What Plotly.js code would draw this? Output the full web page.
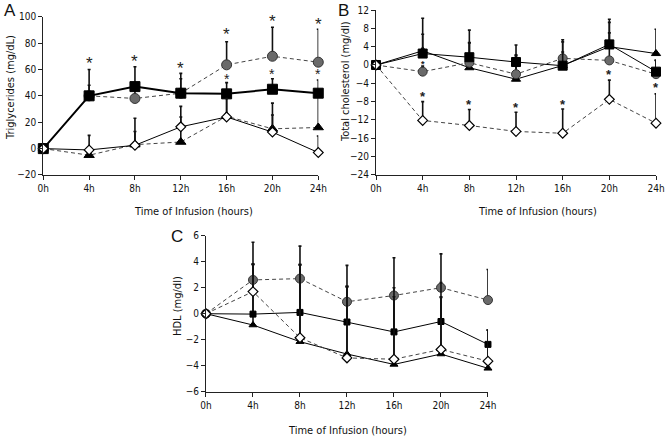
<!DOCTYPE html>
<html>
<head>
<meta charset="utf-8">
<script src="https://cdn.plot.ly/plotly-3.0.1.min.js"></script>
<style>html,body{margin:0;padding:0;background:#fff;}#chart{width:666px;height:439px;}</style>
</head>
<body>
<div id="chart"></div>
<script>
// ---- data ----
const hours = [0, 4, 8, 12, 16, 20, 24];
const hourLabels = ['0h', '4h', '8h', '12h', '16h', '20h', '24h'];

// Panel A: Triglycerides (mg/dL)
const tgSquare = [0, 40, 47, 42, 41.5, 45, 42];
const tgSquareErr = [0, 20, 15, 15, 8.5, 8, 10];
const tgCircle = [0, 40, 38, 42, 63.5, 70, 65.5];
const tgCircleErr = [0, 8, 8, 11, 17.5, 22, 25];
const tgDiamond = [0, -1, 2.5, 16.5, 24, 12.5, -3];
const tgDiamondErr = [0, 11, 20.5, 15.5, 14, 22, 12.6];
const tgTriangle = [0, -5, 3, 5, 24.5, 15, 16];
const tgTriangleErr = [0, 6, 10, 19, 15, 10.5, 27];
const tgStarX = [4, 8, 12, 16, 16, 20, 20, 24, 24];
const tgStarY = [66.8, 68.6, 63, 88.8, 55, 99, 58.5, 96, 59];
const tgStarBig = [true, true, true, true, false, true, false, true, false];

// Panel B: Total cholesterol (mg/dl)
const tcSquare = [0, 2.5, 1.7, 0.65, -0.15, 4.5, -1.45];
const tcSquareErr = [0, 4.2, 5.9, 3.7, 3.0, 5.5, 2.5];
const tcTriangle = [0, 3.1, -0.6, -3.1, -0.1, 4.0, 2.5];
const tcTriangleErr = [0, 7.1, 5.4, 5.3, 5.6, 5.3, 5.3];
const tcCircle = [0, -1.45, 0.5, -2.0, 1.45, 1.0, -2.0];
const tcCircleErr = [0, 1.2, 4.4, 4.0, 3.6, 6.0, 3.0];
const tcDiamond = [0, -12.1, -13.2, -14.5, -14.9, -7.5, -12.7];
const tcDiamondErr = [0, 4.1, 3.5, 4.2, 5.3, 4.2, 6.4];
const tcStarX = [4, 4, 8, 12, 16, 20, 24];
const tcStarY = [0.8, -6.2, -7.9, -8.6, -7.9, -1.5, -4.2];

// Panel C: HDL (mg/dl)
const hdlCircle = [0, 2.6, 2.7, 0.92, 1.4, 2.0, 1.05];
const hdlCircleErr = [0, 2.9, 2.5, 2.8, 2.9, 2.6, 2.35];
const hdlDiamond = [0, 1.7, -1.85, -3.4, -3.5, -2.75, -3.65];
const hdlDiamondErr = [0, 2.1, 5.6, 5.5, 5.5, 4.0, 2.4];
const hdlSquare = [0, -0.03, 0.1, -0.64, -1.4, -0.6, -2.36];
const hdlSquareErr = [0, 3.8, 3.7, 2.7, 2.7, 3.0, 1.1];
const hdlTriangle = [0, -0.87, -2.15, -3.1, -3.9, -3.1, -4.2];
const hdlTriangleErr = [0, 4.7, 5.9, 5.2, 5.5, 4.4, 2.0];

// ---- styling helpers ----
const FONT = 'DejaVu Sans Condensed, DejaVu Sans, sans-serif';
const GRAY = '#6a6a6a';
const DASHC = '#444444';

function tr(xa, ya, y, err, kind, lineStyle, msize, lw) {
  const m = {size: msize, line: {color: '#000', width: 1}};
  if (kind === 'square') { m.symbol = 'square'; m.color = '#000'; }
  if (kind === 'circle') { m.symbol = 'circle'; m.color = GRAY; m.line = {color: '#333', width: 1}; }
  if (kind === 'diamond') { m.symbol = 'diamond'; m.color = '#fff'; m.line = {color: '#000', width: 1.2}; }
  if (kind === 'triangle') { m.symbol = 'triangle-up'; m.color = '#000'; }
  return {
    x: hours, y: y, xaxis: xa, yaxis: ya, type: 'scatter', mode: 'lines+markers',
    cliponaxis: false,
    line: lineStyle === 'dash' ? {color: DASHC, width: 1, dash: '4px,3px'} : {color: '#000', width: lw || 1},
    marker: m,
    error_y: {type: 'data', symmetric: false, array: err, arrayminus: hours.map(() => 0),
              color: '#111', thickness: 1.6, width: 1.5},
    showlegend: false, hoverinfo: 'none'
  };
}

const data = [
  // A
  tr('x', 'y', tgTriangle, tgTriangleErr, 'triangle', 'dash', 9),
  tr('x', 'y', tgCircle, tgCircleErr, 'circle', 'dash', 10),
  tr('x', 'y', tgSquare, tgSquareErr, 'square', 'solid', 10, 2),
  tr('x', 'y', tgDiamond, tgDiamondErr, 'diamond', 'solid', 7.5, 1),
  // B
  tr('x2', 'y2', tcTriangle, tcTriangleErr, 'triangle', 'solid', 8, 1),
  tr('x2', 'y2', tcCircle, tcCircleErr, 'circle', 'dash', 9),
  tr('x2', 'y2', tcSquare, tcSquareErr, 'square', 'solid', 9, 1),
  tr('x2', 'y2', tcDiamond, tcDiamondErr, 'diamond', 'dash', 7.5),
  // C
  tr('x3', 'y3', hdlTriangle, hdlTriangleErr, 'triangle', 'solid', 7, 1),
  tr('x3', 'y3', hdlCircle, hdlCircleErr, 'circle', 'dash', 9),
  tr('x3', 'y3', hdlSquare, hdlSquareErr, 'square', 'solid', 6, 1),
  tr('x3', 'y3', hdlDiamond, hdlDiamondErr, 'diamond', 'dash', 7.5)
];

function xax(domain, anchor) {
  return {domain: domain, anchor: anchor, range: [0, 24], tickvals: hours, ticktext: hourLabels,
    showline: true, linecolor: '#222', linewidth: 1, ticks: 'outside', ticklen: 4, tickcolor: '#222',
    showgrid: false, zeroline: false, fixedrange: true, tickfont: {family: FONT, size: 10, color: '#111'}};
}
function yax(domain, anchor, range, dtick) {
  return {domain: domain, anchor: anchor, range: range, dtick: dtick, tick0: range[0],
    showline: true, linecolor: '#222', linewidth: 1, ticks: 'outside', ticklen: 4, tickcolor: '#222',
    showgrid: false, zeroline: false, fixedrange: true, tickfont: {family: FONT, size: 10, color: '#111'}};
}

const ann = [];
for (let i = 0; i < tgStarX.length; i++) {
  ann.push({xref: 'x', yref: 'y', x: tgStarX[i], y: tgStarY[i], text: '*', showarrow: false,
    yanchor: 'middle', yshift: -3,
    font: {family: 'Liberation Sans, Arial, sans-serif', size: tgStarBig[i] ? 17 : 14, color: '#222'}});
}
for (let i = 0; i < tcStarX.length; i++) {
  ann.push({xref: 'x2', yref: 'y2', x: tcStarX[i], y: tcStarY[i], text: '<b>*</b>', showarrow: false,
    yanchor: 'middle', yshift: -3,
    font: {family: 'Liberation Sans, Arial, sans-serif', size: i === 0 ? 9 : 13, color: '#222'}});
}
function ptxt(x, y, text, size, angle, fam) {
  ann.push({xref: 'paper', yref: 'paper', x: x / 666, y: 1 - y / 439, text: text, showarrow: false,
    xanchor: 'center', yanchor: 'middle', textangle: angle || 0,
    font: {family: fam || FONT, size: size, color: '#111'}});
}
ptxt(10, 11, 'A', 17, 0, 'Liberation Sans, Arial, sans-serif');
ptxt(343, 11, 'B', 17, 0, 'Liberation Sans, Arial, sans-serif');
ptxt(177, 236, 'C', 17, 0, 'Liberation Sans, Arial, sans-serif');
ptxt(193, 211, 'Time of Infusion (hours)', 11);
ptxt(537, 211, 'Time of Infusion (hours)', 11);
ptxt(347, 430, 'Time of Infusion (hours)', 11);
ptxt(10, 88, 'Triglycerides (mg/dL)', 11, -90);
ptxt(345, 82, 'Total cholesterol (mg/dl)', 11, -90);
ptxt(177, 306, 'HDL (mg/dl)', 11, -90);

const layout = {
  width: 666, height: 439, margin: {l: 0, r: 0, t: 0, b: 0, pad: 0},
  paper_bgcolor: '#fff', plot_bgcolor: 'rgba(0,0,0,0)', showlegend: false,
  xaxis: xax([0.0650, 0.4779], 'y'),
  yaxis: yax([0.6014, 0.9620], 'x', [-20, 100], 20),
  xaxis2: xax([0.5646, 0.9850], 'y2'),
  yaxis2: yax([0.6014, 0.9772], 'x2', [-24, 12], 4),
  xaxis3: xax([0.3093, 0.7327], 'y3'),
  yaxis3: yax([0.1077, 0.4631], 'x3', [-6, 6], 2),
  annotations: ann
};

Plotly.newPlot('chart', data, layout, {staticPlot: true, displayModeBar: false});
</script>
</body>
</html>
